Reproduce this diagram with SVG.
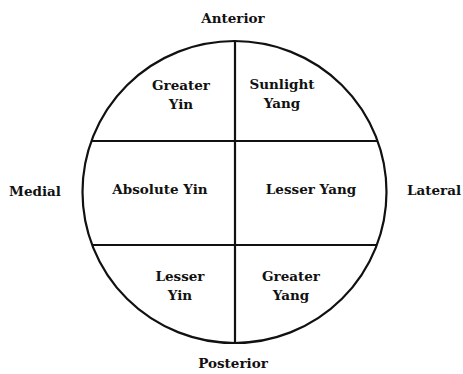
<svg xmlns="http://www.w3.org/2000/svg" width="463" height="374" viewBox="0 0 463 374">
<style>
text{font-family:"DejaVu Serif","Liberation Serif",serif;font-weight:bold;font-size:13.5px;fill:#111;text-anchor:middle}
.l{stroke:#111;stroke-width:2.2;fill:none}
</style>
<rect width="463" height="374" fill="#fff"/>
<g id="circle"><ellipse class="l" cx="234.5" cy="192" rx="152" ry="151"/></g>
<g id="connectors">
<line class="l" x1="235" y1="41" x2="235" y2="343"/>
<line class="l" x1="91" y1="141" x2="378" y2="141"/>
<line class="l" x1="92" y1="245" x2="377" y2="245"/>
</g>
<g id="labels">
<text x="233" y="23">Anterior</text>
<text x="35" y="196">Medial</text>
<text x="434" y="195">Lateral</text>
<text x="233" y="368">Posterior</text>
</g>
<g id="greater-yin"><text x="181" y="90">Greater</text><text x="181" y="109">Yin</text></g>
<g id="sunlight-yang"><text x="282" y="89">Sunlight</text><text x="282" y="108">Yang</text></g>
<g id="absolute-yin"><text x="160" y="194">Absolute Yin</text></g>
<g id="lesser-yang"><text x="311" y="194">Lesser Yang</text></g>
<g id="lesser-yin"><text x="180" y="281">Lesser</text><text x="180" y="300">Yin</text></g>
<g id="greater-yang"><text x="291" y="281">Greater</text><text x="291" y="300">Yang</text></g>
</svg>
